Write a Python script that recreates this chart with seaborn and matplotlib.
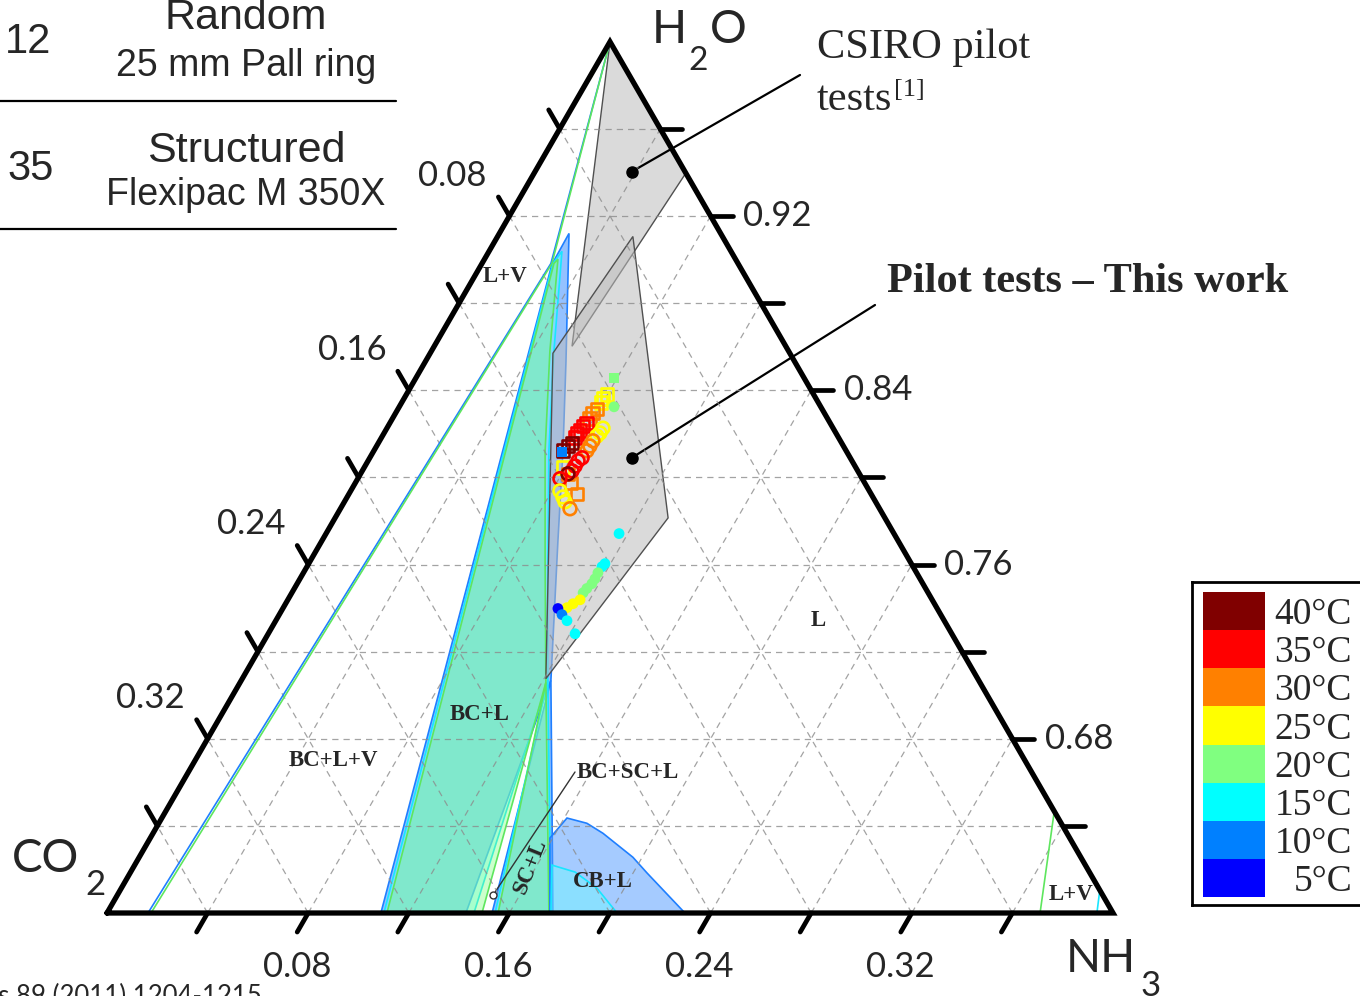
import numpy as np
import pandas as pd
import matplotlib
matplotlib.use("Agg")
import matplotlib.pyplot as plt
from matplotlib.lines import Line2D
from matplotlib.colors import to_rgba
import seaborn as sns

# ---- data: mass fractions NH3 / CO2 (H2O is the rest) ----
temps = [40, 35, 30, 25, 20, 15, 10, 5]
temp_colors = ["#800000", "#ff0000", "#ff8000", "#ffff00", "#80ff80", "#00ffff", "#0080ff", "#0000ff"]

# pilot tests, hollow squares
sq_nh3 = [0.0797, 0.0790, 0.0793, 0.0791, 0.0784, 0.0784, 0.0780, 0.0775, 0.0774, 0.0769,
          0.0770, 0.0770, 0.0761, 0.0752, 0.0791, 0.0825, 0.0858, 0.0907]
sq_co2 = [0.0821, 0.0846, 0.0865, 0.0895, 0.0920, 0.0944, 0.0970, 0.0989, 0.1012, 0.1031,
          0.1048, 0.1072, 0.1095, 0.1126, 0.1165, 0.1159, 0.1168, 0.1169]
sq_temp = [25, 25, 25, 30, 30, 30, 35, 35, 35, 35, 35, 40, 40, 40, 25, 30, 30, 30]

# pilot tests, hollow circles
ci_nh3 = [0.0859, 0.0858, 0.0853, 0.0848, 0.0848, 0.0847, 0.0844, 0.0835, 0.0835, 0.0834,
          0.0825, 0.0804, 0.0832, 0.0858, 0.0877, 0.0913]
ci_co2 = [0.0915, 0.0938, 0.0957, 0.0984, 0.1008, 0.1031, 0.1066, 0.1089, 0.1113, 0.1136,
          0.1159, 0.1202, 0.1230, 0.1232, 0.1235, 0.1231]
ci_temp = [25, 25, 25, 30, 30, 30, 35, 35, 35, 35, 40, 35, 25, 25, 25, 30]

# pilot tests, filled circles
fc_nh3 = [0.0854, 0.1165, 0.1178, 0.1173, 0.1171, 0.1173, 0.1172, 0.1163, 0.1158, 0.1162,
          0.1143, 0.1128, 0.1094, 0.1124, 0.1158, 0.1220]
fc_co2 = [0.0822, 0.1093, 0.1218, 0.1237, 0.1267, 0.1293, 0.1316, 0.1347, 0.1372, 0.1400,
          0.1437, 0.1470, 0.1508, 0.1506, 0.1500, 0.1498]
fc_temp = [20, 15, 15, 15, 20, 20, 20, 20, 20, 25, 25, 25, 5, 10, 15, 15]

# filled squares
fs_nh3 = [0.0788, 0.0751]
fs_co2 = [0.0756, 0.1133]
fs_temp = [20, 10]

# BC+L regions at 10, 15, 20 degC
bcl10_nh3 = [0.1089, 0.0280, 0.0277, 0.0558, 0.0752, 0.0938, 0.1106, 0.1231, 0.1427]
bcl10_co2 = [0.2911, 0.0742, 0.0603, 0.0908, 0.1126, 0.1352, 0.1552, 0.1701, 0.2573]
bcl15_nh3 = [0.1101, 0.0282, 0.0290, 0.0487, 0.0696, 0.0944, 0.1219, 0.1459]
bcl15_co2 = [0.2899, 0.0736, 0.0672, 0.0933, 0.1182, 0.1438, 0.1713, 0.2541]
bcl20_nh3 = [0.1113, 0.0286, 0.0292, 0.0471, 0.0681, 0.0933, 0.1216, 0.1491]
bcl20_co2 = [0.2887, 0.0732, 0.0706, 0.0949, 0.1197, 0.1449, 0.1726, 0.2509]

# SC+L regions
scl10_nh3 = [0.1231, 0.1531, 0.1773]
scl10_co2 = [0.1701, 0.2469, 0.2227]
scl15_nh3 = [0.1219, 0.1543, 0.1765]
scl15_co2 = [0.1713, 0.2457, 0.2235]
scl20_nh3 = [0.1216, 0.1555, 0.1757]
scl20_co2 = [0.1726, 0.2445, 0.2243]

# CB+L regions
cbl10_nh3 = [0.1761, 0.1589, 0.1611, 0.1702, 0.1789, 0.1963, 0.2055, 0.2298]
cbl10_co2 = [0.2239, 0.2067, 0.1953, 0.1886, 0.1845, 0.1781, 0.1761, 0.1702]
cbl15_nh3 = [0.1765, 0.1659, 0.1767, 0.1891, 0.2028]
cbl15_co2 = [0.2235, 0.2121, 0.2045, 0.1995, 0.1972]

# L+V boundaries
lv_blue_nh3 = [0.0163, 0.0274, 0.0]
lv_blue_co2 = [0.3837, 0.0744, 0.0]
lv_green_nh3 = [0.0175, 0.0278, 0.0]
lv_green_co2 = [0.3825, 0.0740, 0.0]
lvr_green_nh3 = [0.3710, 0.3533]
lvr_green_co2 = [0.0290, 0.0]
lvr_cyan_nh3 = [0.3936, 0.3895]
lvr_cyan_co2 = [0.0064, 0.0]

# operating windows
csiro_nh3 = [0.0, 0.0603, 0.0548]
csiro_co2 = [0.0, 0.0, 0.0850]
work_nh3 = [0.0538, 0.1324, 0.1207, 0.0488]
work_co2 = [0.0356, 0.0862, 0.1717, 0.0942]

ticks = [0.04, 0.08, 0.12, 0.16, 0.20, 0.24, 0.28, 0.32, 0.36]
labelled = [0.08, 0.16, 0.24, 0.32]

# ---- layout ----
W, H = 1360, 996
X0, Y0, SIDE = 107, 913, 1006
SANS = ["Lato", "DejaVu Sans"]
SERIF = ["Liberation Serif", "DejaVu Serif"]
ARIAL = ["Liberation Sans", "DejaVu Sans"]

sns.set_theme(style="white")
plt.rcParams["font.family"] = SERIF


def to_xy(nh3, co2):
    nh3 = np.asarray(nh3, float)
    co2 = np.asarray(co2, float)
    lh = (0.4 - nh3 - co2) / 0.4
    return nh3 / 0.4 + 0.5 * lh, np.sqrt(3) / 2 * lh


fig = plt.figure(figsize=(W / 100, H / 100), dpi=100)
ax = fig.add_axes([0, 0, 1, 1])
ax.set_xlim(-X0 / SIDE, (W - X0) / SIDE)
ax.set_ylim(-(H - Y0) / SIDE, Y0 / SIDE)
ax.axis("off")


def put(px, py, s, **kw):
    fig.text(px / W, 1 - py / H, s, **kw)


def region(nh3, co2, face, alpha, edge, lw=1.2, z=2):
    x, y = to_xy(nh3, co2)
    ax.fill(x, y, facecolor=to_rgba(face, alpha), edgecolor=edge, lw=lw, zorder=z)


def line(nh3, co2, color, lw=1.2, z=4):
    x, y = to_xy(nh3, co2)
    ax.plot(x, y, color=color, lw=lw, zorder=z)


C10, C15, C20 = (0.3, 0.6, 1.0), (0.4, 1.0, 1.0), (0.5, 1.0, 0.5)
E10, E15, E20 = "#1f7fff", "#19e6ff", "#5ee65e"

region(bcl10_nh3, bcl10_co2, C10, 0.6, E10)
region(scl10_nh3, scl10_co2, C10, 0.6, E10)
region(bcl15_nh3, bcl15_co2, C15, 0.4, E15)
region(scl15_nh3, scl15_co2, C15, 0.4, E15)
region(bcl20_nh3, bcl20_co2, C20, 0.4, E20)
region(scl20_nh3, scl20_co2, C20, 0.4, E20)
region(cbl10_nh3, cbl10_co2, C10, 0.5, E10)
region(cbl15_nh3, cbl15_co2, C15, 0.4, E15)

line(lv_blue_nh3, lv_blue_co2, E10)
line(lv_green_nh3, lv_green_co2, E20)
line(lvr_green_nh3, lvr_green_co2, E20)
line(lvr_cyan_nh3, lvr_cyan_co2, E15)

region(csiro_nh3, csiro_co2, "#bdbdbd", 0.55, "#505050", lw=1, z=3)
region(work_nh3, work_co2, "#bdbdbd", 0.55, "#505050", lw=1, z=3)

# dashed grid
for v in ticks:
    for seg in ([(v, 0.4 - v), (v, 0)], [(0.4 - v, v), (0, v)], [(0, 0.4 - v), (0.4 - v, 0)]):
        x, y = to_xy([p[0] for p in seg], [p[1] for p in seg])
        ax.plot(x, y, color="#8c8c8c", lw=0.9, ls=(0, (5, 4)), alpha=0.8, zorder=3.5)

# triangle and ticks
tx, ty = to_xy([0, 0.4, 0, 0], [0.4, 0, 0, 0.4])
ax.plot(tx, ty, color="black", lw=3.8, solid_joinstyle="miter", zorder=6)
t = 22 / SIDE
for v in ticks:
    x, y = to_xy(0, v)
    ax.plot([x, x - 0.5 * t], [y, y + 0.866 * t], color="black", lw=3.4, zorder=6)
    x, y = to_xy(v, 0)
    ax.plot([x, x + t], [y, y], color="black", lw=3.4, zorder=6)
    x, y = to_xy(v, 0.4 - v)
    ax.plot([x, x - 0.5 * t], [y, y - 0.866 * t], color="black", lw=3.4, zorder=6)

for v in labelled:
    lab = dict(textcoords="offset points", ha="center", va="center", fontsize=25, family=SANS)
    ax.annotate(f"{v:.2f}", xy=to_xy(0, v), xytext=(-41, 29), **lab)
    ax.annotate(f"{1 - v:.2f}", xy=to_xy(v, 0), xytext=(48, 0), **lab)
    ax.annotate(f"{v:.2f}", xy=to_xy(v, 0.4 - v), xytext=(-8, -39), **lab)

# pilot data points
palette = dict(zip(temps, temp_colors))


def frame(nh3, co2, temp):
    x, y = to_xy(nh3, co2)
    return pd.DataFrame({"x": x, "y": y, "temp": temp})


def hollow(coll):
    coll.set_edgecolor(coll.get_facecolor())
    coll.set_facecolor("none")


sns.scatterplot(data=frame(sq_nh3, sq_co2, sq_temp), x="x", y="y", hue="temp", palette=palette,
                marker="s", s=85, linewidth=1.9, legend=False, ax=ax, zorder=7)
hollow(ax.collections[-1])
sns.scatterplot(data=frame(ci_nh3, ci_co2, ci_temp), x="x", y="y", hue="temp", palette=palette,
                marker="o", s=85, linewidth=1.9, legend=False, ax=ax, zorder=7)
hollow(ax.collections[-1])
sns.scatterplot(data=frame(fc_nh3, fc_co2, fc_temp), x="x", y="y", hue="temp", palette=palette,
                marker="o", s=60, edgecolor="none", legend=False, ax=ax, zorder=8)
sns.scatterplot(data=frame(fs_nh3, fs_co2, fs_temp), x="x", y="y", hue="temp", palette=palette,
                marker="s", s=55, edgecolor="none", legend=False, ax=ax, zorder=8)

# pointers
arrow = dict(arrowstyle="-", color="black", lw=1.6, shrinkA=0, shrinkB=0)
for nh3, co2, px, py in [(0.0385, 0.0211, 800, 75), (0.1042, 0.0868, 875, 305)]:
    xy = to_xy(nh3, co2)
    ax.plot(*xy, "o", color="black", ms=8, zorder=9)
    ax.annotate("", xy=xy, xytext=(px / W, 1 - py / H), textcoords="figure fraction", arrowprops=arrow)
xy = to_xy(0.1494, 0.2424)
ax.annotate("", xy=xy, xytext=(575 / W, 1 - 772 / H), textcoords="figure fraction",
            arrowprops=dict(arrowstyle="-", color="#333333", lw=1, shrinkA=0, shrinkB=3))
ax.plot(*xy, "o", mfc="white", mec="#333333", ms=5, mew=1, zorder=9)

# vertex labels
put(652, 43, "H", size=33, family=SANS)
put(688, 70, "2", size=24, family=SANS)
put(710, 43, "O", size=33, family=SANS)
put(12, 872, "CO", size=33, family=SANS)
put(85, 895, "2", size=25, family=SANS)
put(1066, 972, "NH", size=33, family=SANS)
put(1140, 996, "3", size=25, family=SANS)

# phase region labels
for s, px, py, rot in [("L+V", 505, 277, 0), ("L", 818, 620, 0), ("BC+L", 480, 714, 0),
                       ("BC+L+V", 333, 761, 0), ("BC+SC+L", 628, 772, 0), ("CB+L", 603, 881, 0),
                       ("L+V", 1071, 895, 0), ("SC+L", 530, 866, 68)]:
    put(px, py, s, size=16.5, weight="bold", ha="center", va="center", rotation=rot, family=SERIF)

# annotations
put(817, 58, "CSIRO pilot", size=30.5, family=SERIF)
put(817, 110, "tests", size=30.5, family=SERIF)
put(894, 96, "[1]", size=19, family=SERIF)
put(887, 292, "Pilot tests \u2013 This work", size=30.5, weight="bold", family=SERIF)

# packing table (top left)
put(5, 53, "12", size=30, family=ARIAL)
put(246, 29, "Random", size=31, ha="center", family=ARIAL)
put(246, 76, "25 mm Pall ring", size=27, ha="center", family=ARIAL)
put(7, 180, "35", size=30, family=ARIAL)
put(246, 162, "Structured", size=31, ha="center", family=ARIAL)
put(246, 205, "Flexipac M 350X", size=27, ha="center", family=ARIAL)
for py in (101, 229):
    fig.add_artist(Line2D([0, 396 / W], [1 - py / H] * 2, color="black", lw=1.6))

put(262, 1004, "Chem Eng Res Des 89 (2011) 1204-1215", size=18.5, ha="right", family=SANS)

# temperature key
labels = [f"{t}\u00b0C" for t in temps]
n = len(temps)
row = 38.1
lax = fig.add_axes([1192 / W, 1 - 905 / H, 190 / W, 323 / H])
lax.set_xlim(0, 190)
lax.set_ylim(n - 0.5 + 8 / row, -0.5 - 10 / row)
lax.barh(range(n), 62, left=11, height=1.0, color=temp_colors, linewidth=0)
for i, lab in enumerate(labels):
    lax.text(160, i + 0.1, lab, ha="right", va="center", size=27, family=SERIF)
lax.set_xticks([])
lax.set_yticks([])
for sp in lax.spines.values():
    sp.set_visible(True)
    sp.set_color("black")
    sp.set_linewidth(2)

fig.savefig("out.png", dpi=100)
